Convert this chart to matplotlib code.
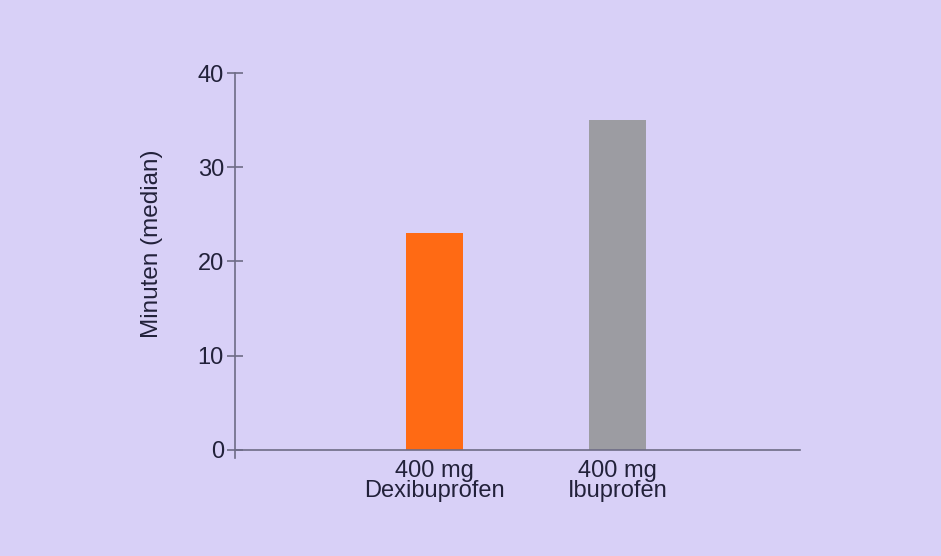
import matplotlib
matplotlib.use("Agg")
import matplotlib.pyplot as plt

# data
labels = ["400 mg\nDexibuprofen", "400 mg\nIbuprofen"]
values = [23, 35]
colors = ["#ff6a14", "#9c9ca2"]
yticks = [0, 10, 20, 30, 40]

bg = "#d8d0f7"
axcol = "#6e6c86"
txt = "#22213a"

plt.rcParams["font.family"] = ["Liberation Sans", "DejaVu Sans"]

fig = plt.figure(figsize=(9.41, 5.56), dpi=100, facecolor=bg)
ax = fig.add_axes([235 / 941, (556 - 458) / 556, (800 - 235) / 941, (458 - 73) / 556])
ax.set_facecolor(bg)

x = list(range(len(values)))
ax.bar(x, values, width=0.31, color=colors, zorder=2)

ax.set_xlim(-1.087, 1.997)
ax.set_ylim(-0.85, 40)
for s in ["top", "right"]:
    ax.spines[s].set_visible(False)
ax.spines["bottom"].set_position(("data", 0))
ax.spines["left"].set_bounds(-0.85, 40)
for s in ["left", "bottom"]:
    ax.spines[s].set_color(axcol)
    ax.spines[s].set_linewidth(1.2)

ax.set_yticks(yticks)
ax.tick_params(axis="y", direction="inout", length=12, width=1.2, color=axcol,
               labelsize=17, labelcolor=txt, pad=2)
ax.set_xticks(x)
ax.set_xticklabels(labels, fontsize=17, color=txt, linespacing=0.9)
ax.tick_params(axis="x", length=0, pad=7)

ax.set_ylabel("Minuten (median)", fontsize=17.5, color=txt)
ax.yaxis.set_label_coords(-0.128, 0.556)

fig.savefig("out.png", dpi=100, facecolor=bg)
